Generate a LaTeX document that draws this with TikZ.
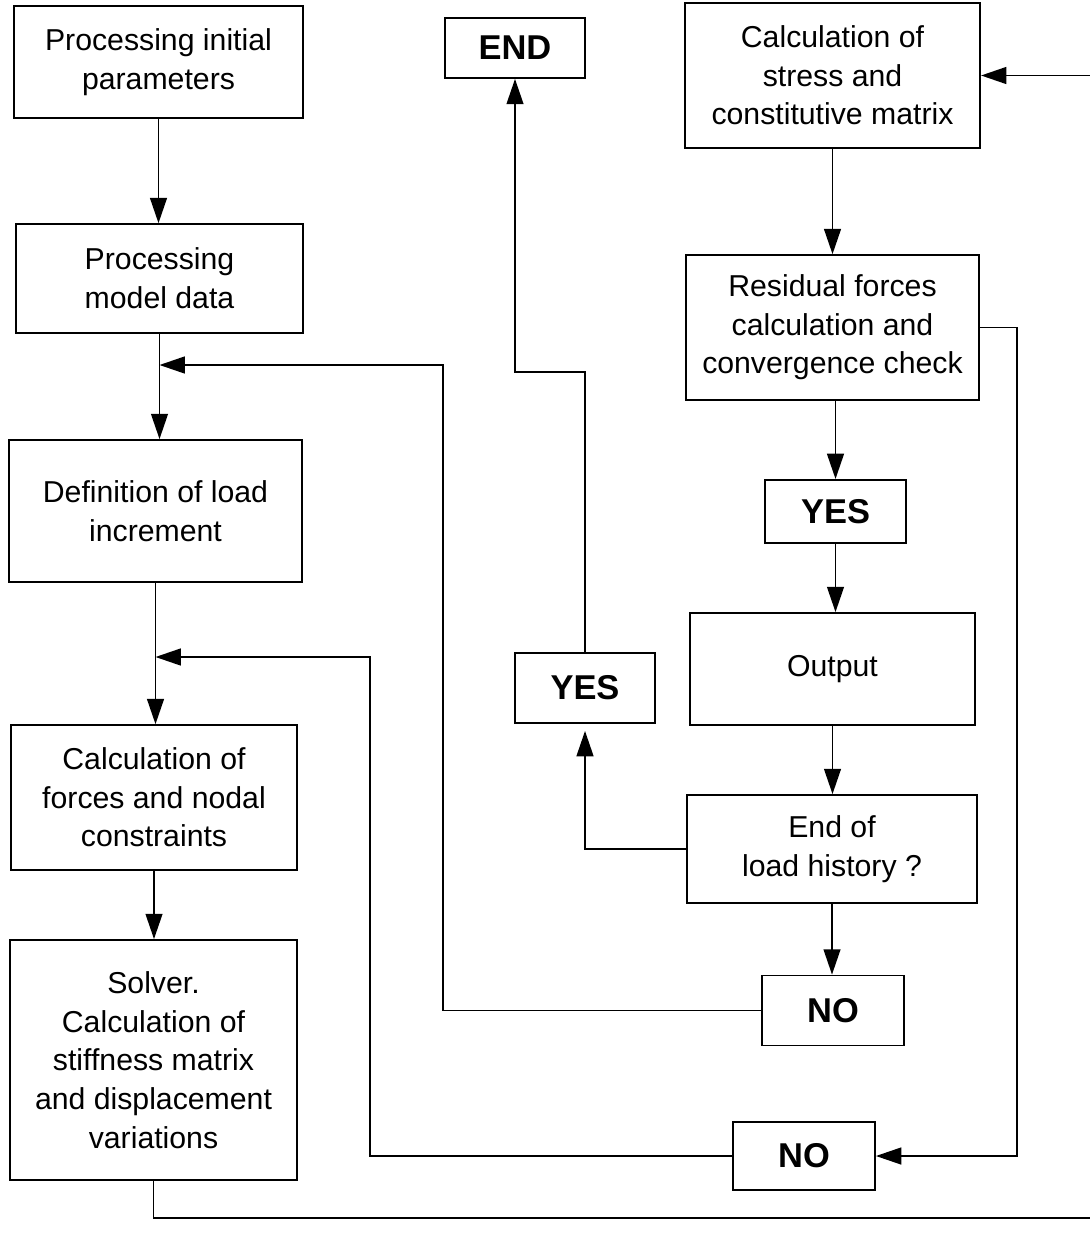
\documentclass[tikz,border=0pt]{standalone}
\usepackage{fontspec}
\setmainfont{Liberation Sans}
\usetikzlibrary{arrows.meta,positioning}
\tikzset{
every node/.style={align=center},
process/.style={rectangle, draw, line width=1.3pt, inner sep=0pt, font=\fontsize{21.5}{27.5}\selectfont},
answer/.style={rectangle, draw, line width=1.3pt, inner sep=0pt, font=\fontsize{24.5}{27}\selectfont\bfseries},
flow/.style={->, line width=1.2pt},
>={Triangle[length=18pt,width=12pt]},
}
\begin{document}
\begin{tikzpicture}[x=0.025cm, y=-0.025cm]
\useasboundingbox (0,0) rectangle (1090,1236);
% left column
\node (init)    [process, minimum width=7.22cm, minimum height=2.8cm]  at (158.5,62)   {Processing initial\\parameters};
\node (model)   [process, minimum width=7.18cm, minimum height=2.72cm] at (159.5,278.5) {Processing\\model data};
\node (loadinc) [process, minimum width=7.32cm, minimum height=3.55cm] at (155.5,511)  {Definition of load\\increment};
\node (forces)  [process, minimum width=7.15cm, minimum height=3.62cm] at (154,797.5)  {Calculation of\\forces and nodal\\constraints};
\node (solver)  [process, minimum width=7.18cm, minimum height=6cm]    at (153.5,1060) {Solver.\\Calculation of\\stiffness matrix\\and displacement\\variations};
% right column
\node (end)     [answer, minimum width=3.5cm, minimum height=1.5cm]    at (515,48)     {END};
\node (stress)  [process, minimum width=7.38cm, minimum height=3.62cm] at (832.5,75.5) {Calculation of\\stress and\\constitutive matrix};
\node (resid)   [process, minimum width=7.32cm, minimum height=3.62cm] at (832.5,327.5) {Residual forces\\calculation and\\convergence check};
\node (yesconv) [answer, minimum width=3.52cm, minimum height=1.58cm]  at (835.5,511.5) {YES};
\node (output)  [process, minimum width=7.12cm, minimum height=2.8cm]  at (832.5,669)  {Output};
\node (yesend)  [answer, minimum width=3.5cm, minimum height=1.75cm]   at (585,688)    {YES};
\node (endload) [process, minimum width=7.25cm, minimum height=2.7cm]  at (832,849)    {End of\\load history ?};
\node (noend)   [answer, minimum width=3.55cm, minimum height=1.75cm]  at (833,1010.5) {NO};
\node (noconv)  [answer, minimum width=3.55cm, minimum height=1.7cm]   at (804,1156)   {NO};
% turning points
\coordinate (incfeed) at (443,365);
\coordinate (iterfeed) at (370,657);
\coordinate (upturn) at (0,372);
\coordinate (rescol) at (1017,0);
\coordinate (rimout) at (1090,1218);
\coordinate (rimin) at (1090,75.5);
% main chain
\draw [flow] (init.south) -- (init.south |- model.north);
\draw [flow] (model.south) -- (model.south |- loadinc.north);
\draw [flow] (loadinc.south) -- (loadinc.south |- forces.north);
\draw [flow] (forces.south) -- (forces.south |- solver.north);
\draw [line width=1.2pt] (solver.south) |- (rimout);
\draw [flow] (rimin) -- (stress.east);
\draw [flow] (stress.south) -- (stress.south |- resid.north);
\draw [flow] (yesconv.north |- resid.south) -- (yesconv.north);
\draw [flow] (yesconv.south) -- (yesconv.south |- output.north);
\draw [flow] (output.south) -- (output.south |- endload.north);
\draw [flow] (endload.south) -- (endload.south |- noend.north);
% loops back
\draw [flow] (resid.east) -| (rescol |- noconv.east) -- (noconv.east);
\draw [flow] (noconv.west) -| (iterfeed) -- (loadinc.south |- iterfeed);
\draw [flow] (noend.west) -| (incfeed) -- (model.south |- incfeed);
\draw [flow, shorten >=5pt] (endload.west) -| (yesend.south);
\draw [flow] (yesend.north) |- (end.south |- upturn) -- (end.south);
\end{tikzpicture}
\end{document}
